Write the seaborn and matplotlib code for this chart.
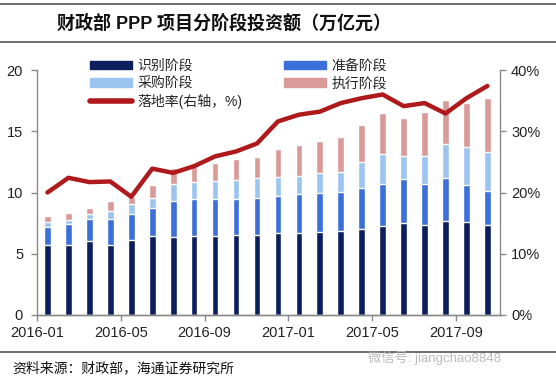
import numpy as np
import pandas as pd
import matplotlib
matplotlib.use('Agg')
import matplotlib.pyplot as plt
import seaborn as sns
from matplotlib.patches import Patch
from matplotlib.lines import Line2D

months = ['2016-01', '2016-02', '2016-03', '2016-04', '2016-05', '2016-06',
          '2016-07', '2016-08', '2016-09', '2016-10', '2016-11', '2016-12',
          '2017-01', '2017-02', '2017-03', '2017-04', '2017-05', '2017-06',
          '2017-07', '2017-08', '2017-09', '2017-10']
tick_labels = ['2016-01', '2016-05', '2016-09', '2017-01', '2017-05', '2017-09']

identify = [5.69, 5.69, 6.04, 5.69, 6.12, 6.48, 6.34, 6.48, 6.48, 6.56, 6.56,
            6.67, 6.72, 6.80, 6.88, 7.05, 7.29, 7.51, 7.35, 7.70, 7.62, 7.37]
prepare = [1.52, 1.71, 1.77, 2.12, 2.10, 2.28, 2.99, 2.96, 2.96, 2.88, 2.96,
           3.04, 3.13, 3.13, 3.19, 3.34, 3.40, 3.59, 3.34, 3.51, 2.97, 2.75]
procure = [0.41, 0.36, 0.43, 0.68, 0.84, 0.76, 1.34, 1.44, 1.53, 1.58, 1.64,
           1.58, 1.52, 1.63, 1.63, 2.07, 2.45, 1.91, 2.32, 2.75, 3.10, 3.16]
execute = [0.49, 0.54, 0.52, 0.82, 0.59, 1.07, 1.30, 1.32, 1.47, 1.69, 1.77,
           2.23, 2.48, 2.64, 2.86, 3.02, 3.32, 3.04, 3.53, 3.59, 3.59, 4.41]
rate = [20.0, 22.4, 21.7, 21.8, 19.3, 23.9, 23.2, 24.3, 25.9, 26.7, 28.0,
        31.6, 32.7, 33.2, 34.6, 35.4, 36.0, 34.1, 34.6, 32.9, 35.4, 37.4]

series_names = ['识别阶段', '准备阶段', '采购阶段', '执行阶段']
colors = ['#0b1f5e', '#3b6fd9', '#9cc4f0', '#d99a98']
line_color = '#b0191b'
line_name = '落地率(右轴，%)'

sns.set_style('white')
plt.rcParams['font.family'] = ['Liberation Sans', 'Noto Sans CJK SC']

fig = plt.figure(figsize=(5.56, 3.84), dpi=100)
ax = fig.add_axes([37 / 556, 1 - 315 / 384, 463 / 556, 245 / 384])

df = pd.DataFrame({'month': months})
cum = np.zeros(len(months))
cols = []
for i, vals in enumerate([identify, prepare, procure, execute]):
    cum = cum + np.array(vals)
    df[f'c{i}'] = cum
    cols.append(f'c{i}')

for col, color in zip(cols[::-1], colors[::-1]):
    sns.barplot(data=df, x='month', y=col, color=color, width=0.32,
                saturation=1, errorbar=None, ax=ax)

ax.set_xlim(-0.5, 21.6)
ax.set_ylim(0, 20)
ax.set_yticks([0, 5, 10, 15, 20])
ax.set_xticks([-0.5 + 4 * k for k in range(len(tick_labels))])
ax.set_xticklabels(tick_labels)
ax.set_xlabel('')
ax.set_ylabel('')

ax2 = ax.twinx()
sns.lineplot(x=np.arange(len(months)), y=rate, ax=ax2, color=line_color,
             linewidth=3.2)
ax2.set_ylim(0, 40)
ax2.set_xlim(-0.5, 21.6)
ax2.set_yticks([0, 10, 20, 30, 40])
ax2.set_yticklabels([f'{v}%' for v in [0, 10, 20, 30, 40]])
ax2.set_ylabel('')

gray = '#8a8a8a'
for a in (ax, ax2):
    a.spines['top'].set_visible(False)
    for s in ('left', 'right', 'bottom'):
        a.spines[s].set_color(gray)
        a.spines[s].set_linewidth(1.0)
    a.tick_params(axis='both', direction='out', length=4, color=gray,
                  labelsize=10.5, labelcolor='#222222', width=1.0)
ax2.spines['left'].set_visible(False)
ax.spines['right'].set_visible(False)
ax.tick_params(axis='y', left=True, pad=6)
ax.tick_params(axis='x', bottom=True, pad=4)
ax2.tick_params(axis='y', right=True, pad=4)

handles = [Patch(color=colors[0]), Patch(color=colors[2]),
           Line2D([0], [0], color=line_color, lw=4),
           Patch(color=colors[1]), Patch(color=colors[3])]
labels = [series_names[0], series_names[2], line_name,
          series_names[1], series_names[3]]
fig.legend(handles, labels, loc='upper left',
           bbox_to_anchor=(90 / 556, 1 - 59 / 384), ncol=2, frameon=False,
           fontsize=10, handlelength=3.0, handleheight=0.55,
           columnspacing=3.0, labelspacing=0.25, borderpad=0,
           borderaxespad=0, handletextpad=0.4)

for yy in (4, 42, 352):
    fig.add_artist(Line2D([0, 1], [1 - yy / 384] * 2, color='#555555',
                          lw=1.2, transform=fig.transFigure))

fig.text(57 / 556, 1 - 23 / 384, '财政部 PPP 项目分阶段投资额（万亿元）',
         fontsize=13, fontweight='bold', va='center', color='#111111')
fig.text(12 / 556, 1 - 368 / 384, '资料来源：财政部，海通证券研究所',
         fontsize=10, va='center', color='#111111')
fig.text(368 / 556, 1 - 358 / 384, '微信号: jiangchao8848',
         fontsize=9.5, va='center', color='#bbbbbb')

fig.savefig('out.png', dpi=100)
